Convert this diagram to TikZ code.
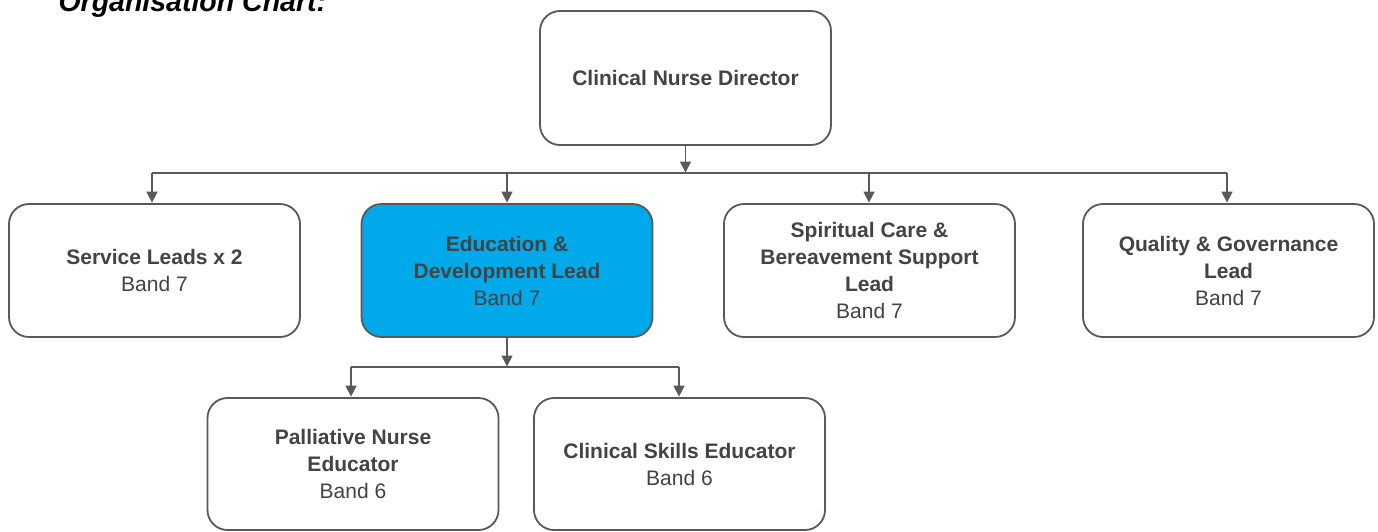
\documentclass[tikz,border=0pt]{standalone}
\usepackage{fontspec}
\setmainfont{Liberation Sans}
\usetikzlibrary{arrows.meta}
\definecolor{edge}{HTML}{595959}
\definecolor{txt}{HTML}{434343}
\definecolor{blue}{HTML}{00A9EA}
\begin{document}
\begin{tikzpicture}[x=1pt,y=-1pt,
  box/.style={draw=edge, line width=1.8pt, rounded corners=20pt, fill=white,
    minimum width=291pt, minimum height=133pt, inner sep=0pt, align=center,
    text=txt, font=\fontsize{21}{27}\selectfont},
  conn/.style={draw=edge, line width=1.5pt},
  arr/.style={conn, -{Triangle[width=11pt,length=11pt]}, shorten >=0.5pt}]
\useasboundingbox (0,0) rectangle (1378,531);
\fill[white] (0,0) rectangle (1378,531);
\node[anchor=base west, font=\fontsize{28.5}{30}\selectfont\bfseries\itshape] (title) at (55,11) {Organisation Chart:};
\node[box, minimum height=134pt] (dir) at (685.5,78) {\textbf{Clinical Nurse Director}};
\node[box] (sl) at (154.5,270.5) {\textbf{Service Leads x 2}\\Band 7};
\node[box, fill=blue] (ed) at (507,270.5) {\textbf{Education \&}\\\textbf{Development Lead}\\Band 7};
\node[box] (sc) at (869.5,270.5) {\textbf{Spiritual Care \&}\\\textbf{Bereavement Support}\\\textbf{Lead}\\Band 7};
\node[box] (qg) at (1228.5,270.5) {\textbf{Quality \& Governance}\\\textbf{Lead}\\Band 7};
\node[box, minimum height=132pt] (pn) at (353,464) {\textbf{Palliative Nurse}\\\textbf{Educator}\\Band 6};
\node[box, minimum height=132pt] (cs) at (679.5,464) {\textbf{Clinical Skills Educator}\\Band 6};
% top bus
\coordinate (b0) at (685.5,173);
\coordinate (b1) at (152,173);
\coordinate (b2) at (507,173);
\coordinate (b3) at (869,173);
\coordinate (b4) at (1227,173);
\draw[conn] (b1) -- (b4);
\draw[arr] (dir.south) -- (b0);
\draw[arr] (b1) -- (b1 |- sl.north);
\draw[arr] (b2) -- (b2 |- ed.north);
\draw[arr] (b3) -- (b3 |- sc.north);
\draw[arr] (b4) -- (b4 |- qg.north);
% second bus
\coordinate (c0) at (507,367);
\coordinate (c1) at (351,367);
\coordinate (c2) at (679,367);
\draw[conn] (c1) -- (c2);
\draw[arr] (ed.south) -- (c0);
\draw[arr] (c1) -- (c1 |- pn.north);
\draw[arr] (c2) -- (c2 |- cs.north);
\end{tikzpicture}
\end{document}
